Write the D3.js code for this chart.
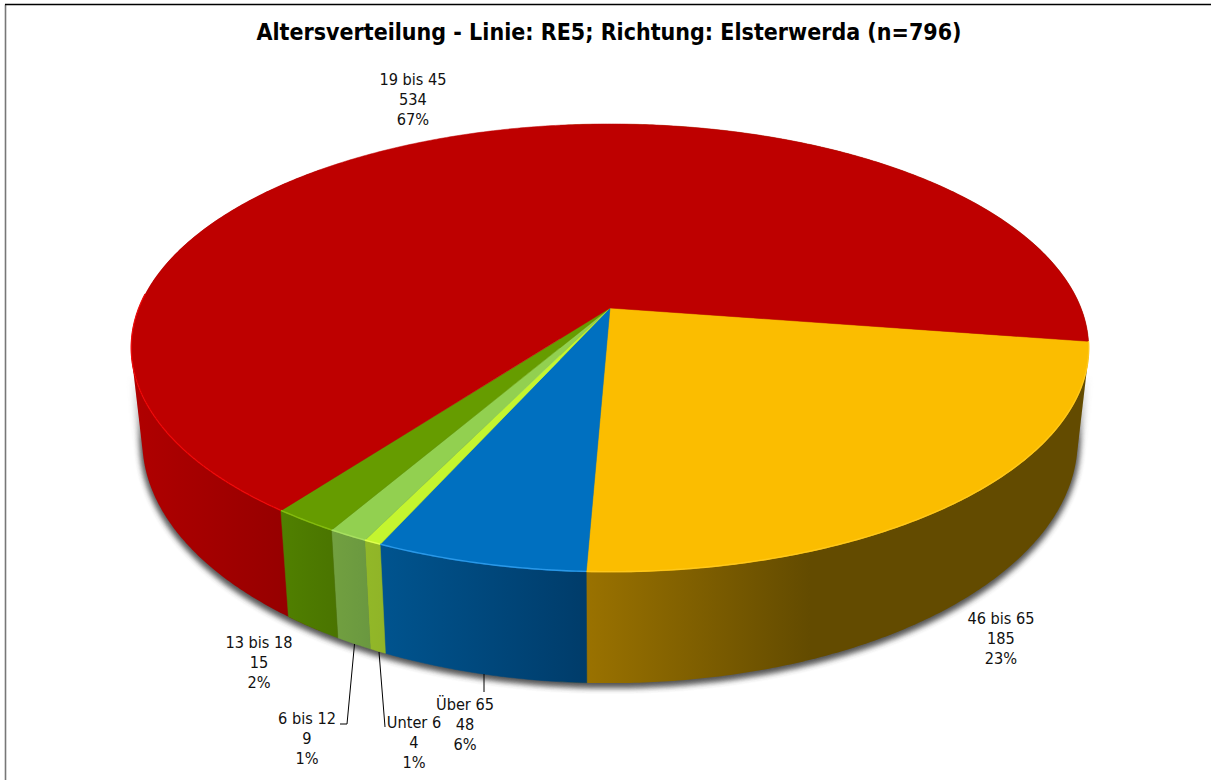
<!DOCTYPE html>
<html lang="de">
<head>
<meta charset="utf-8">
<title>Altersverteilung</title>
<script src="https://cdn.jsdelivr.net/npm/d3@7/dist/d3.min.js"></script>
<style>
html,body{margin:0;padding:0;background:#fff;overflow:hidden}
svg{display:block}
text{font-family:"DejaVu Sans Condensed","DejaVu Sans",sans-serif;font-stretch:condensed;fill:#111}
</style>
</head>
<body>
<svg id="chart" width="1211" height="780"></svg>
<script>
const titleText = "Altersverteilung - Linie: RE5; Richtung: Elsterwerda (n=796)";
const categories = ["46 bis 65","Über 65","Unter 6","6 bis 12","13 bis 18","19 bis 45"];
const counts = [185,48,4,9,15,534];
const percents = ["23%","6%","1%","1%","2%","67%"];

const topColors  = ["#FBBD00","#0070C0","#C4F52F","#92D050","#669C00","#BE0000"];
const rimColors  = ["#FFC81A","#2A98E8","#E0FF50","#A8E060","#84BC10","#E80808"];
const wallLeft   = ["#9A7200","#00548F","#92B828","#72A040","#508000","#B00000"];
const wallRight  = ["#634B00","#003C6A","#90B428","#6A9840","#4A7400","#960000"];

// layout of the tilted pie (perspective disc)
const W=1211,H=780,cx=610,cy=308,R=471,S=216.9,K=0.1786;
const startDeg=8.6;
const bottomScaleX=0.977,bottomScaleY=1.082,bottomShift=89.4;
const labelAnchors=[[1001,618],[465,704],[414,722],[307,718],[259,642],[413,79]];
const leaders=[null,[[484,674],[484,692]],[[379,652],[385,727]],[[354.5,644],[347,724],[340,724]],null,null];

const svg=d3.select("#chart");
const defs=svg.append("defs");
const blur=defs.append("filter").attr("id","shadowBlur")
  .attr("x","-5%").attr("y","-5%").attr("width","110%").attr("height","110%");
blur.append("feGaussianBlur").attr("stdDeviation",3.2);
const soft=defs.append("filter").attr("id","soft")
  .attr("x","-5%").attr("y","-5%").attr("width","110%").attr("height","110%");
soft.append("feGaussianBlur").attr("stdDeviation",0.6);

const pie=d3.pie().sort(null).value(d=>d)
  .startAngle(startDeg*Math.PI/180).endAngle((startDeg+360)*Math.PI/180);
const arcs=pie(counts);

function projTop(a){
  const u=Math.cos(a),v=Math.sin(a),w=1-K*v;
  return [cx+R*u/w, cy+S*v/w];
}
function projBottom(a){
  const p=projTop(a);
  return [cx+(p[0]-cx)*bottomScaleX, cy+bottomShift+(p[1]-cy)*bottomScaleY];
}
const line=d3.line();
function angles(a0,a1){
  const n=Math.max(2,Math.ceil((a1-a0)/(0.5*Math.PI/180)));
  return d3.range(n+1).map(i=>a0+(a1-a0)*i/n);
}

// frame
svg.append("path").attr("d",line([[5.5,780],[5.5,4.5]])).attr("fill","none").attr("stroke","#777").attr("stroke-width",1.6);
svg.append("path").attr("d",line([[5,4.5],[1211,4.5]])).attr("fill","none").attr("stroke","#000").attr("stroke-width",1.6);

// outer silhouette of the body: hull of the top and bottom outlines
const ring=angles(0,2*Math.PI);
const hull=d3.polygonHull(ring.map(projTop).concat(ring.map(projBottom)));

// shadow under the body, fading in below the widest part of the disc
const fade=defs.append("linearGradient").attr("id","shadowFade")
  .attr("gradientUnits","userSpaceOnUse").attr("x1",0).attr("x2",0).attr("y1",375).attr("y2",440);
fade.append("stop").attr("offset",0).attr("stop-color","#000");
fade.append("stop").attr("offset",1).attr("stop-color","#fff");
defs.append("mask").attr("id","shadowMask").attr("maskUnits","userSpaceOnUse")
  .attr("x",0).attr("y",0).attr("width",W).attr("height",H)
  .append("rect").attr("width",W).attr("height",H).attr("fill","url(#shadowFade)");
const shadow=svg.append("g").attr("mask","url(#shadowMask)");
shadow.append("path")
  .attr("d",line(ring.map(projBottom).map(p=>[p[0],p[1]+3]))+"Z")
  .attr("fill","#444").attr("opacity",0.85).attr("stroke","#444").attr("stroke-width",2)
  .attr("filter","url(#shadowBlur)");
shadow.append("path")
  .attr("d",line(hull.map(p=>[p[0],p[1]+2]))+"Z")
  .attr("fill","#444").attr("opacity",0.6).attr("stroke","#444").attr("stroke-width",4)
  .attr("filter","url(#shadowBlur)");

defs.append("clipPath").attr("id","clipLeft").append("rect")
  .attr("x",0).attr("y",0).attr("width",320).attr("height",H);
defs.append("clipPath").attr("id","clipRight").append("rect")
  .attr("x",560).attr("y",0).attr("width",W-560).attr("height",H);

// walls
const walls=svg.append("g");
const order=[5,0,1,2,3,4];
order.forEach(i=>{
  const d=arcs[i];
  const tp=angles(d.startAngle,d.endAngle).map(projTop);
  const bp=angles(d.startAngle,d.endAngle).map(projBottom);
  let x0,x1;
  if(i===5){x0=131;x1=288;}
  else if(i===0){x0=586;x1=810;}
  else{
    const xs=tp.concat(bp).map(p=>p[0]);
    x0=d3.min(xs);x1=d3.max(xs);
  }
  const g=defs.append("linearGradient").attr("id","wall"+i)
    .attr("gradientUnits","userSpaceOnUse")
    .attr("x1",x0).attr("x2",x1).attr("y1",0).attr("y2",0);
  g.append("stop").attr("offset",0).attr("stop-color",wallLeft[i]);
  g.append("stop").attr("offset",1).attr("stop-color",wallRight[i]);
  if(i===5||i===0){
    // the two large slices own the sides of the silhouette
    walls.append("path").attr("d",line(hull)+"Z")
      .attr("fill",`url(#wall${i})`)
      .attr("clip-path",i===5?"url(#clipLeft)":"url(#clipRight)");
  }else{
    walls.append("path")
      .attr("d",line(tp.concat(bp.reverse()))+"Z")
      .attr("fill",`url(#wall${i})`)
      .attr("stroke",`url(#wall${i})`).attr("stroke-width",0.5);
  }
});

// top surface
const tops=svg.append("g");
arcs.forEach((d,i)=>{
  const pts=angles(d.startAngle,d.endAngle).map(projTop);
  tops.append("path")
    .attr("d",line([[cx,cy]].concat(pts))+"Z")
    .attr("fill",topColors[i]).attr("stroke",topColors[i]).attr("stroke-width",0.5);
});
// bright rim along the front edge
arcs.forEach((d,i)=>{
  const a0=d.startAngle,a1=Math.min(d.endAngle,Math.PI*1.02);
  if(a1<=a0)return;
  tops.append("path")
    .attr("d",line(angles(a0,a1).map(projTop).map(p=>[p[0],p[1]-0.4])))
    .attr("fill","none").attr("stroke",rimColors[i]).attr("stroke-width",1.4)
    .attr("filter","url(#soft)");
});

// leader lines
leaders.forEach(l=>{
  if(l) svg.append("path").attr("d",line(l)).attr("fill","none").attr("stroke","#000").attr("stroke-width",1);
});

// title
svg.append("text").attr("x",609).attr("y",40).attr("text-anchor","middle")
  .attr("font-size",23).attr("font-weight",700).style("fill","#000").text(titleText);

// labels
categories.forEach((c,i)=>{
  const [x,y]=labelAnchors[i];
  const t=svg.append("text").attr("text-anchor","middle").attr("font-size",16.2);
  [c,String(counts[i]),percents[i]].forEach((s,j)=>{
    t.append("tspan").attr("x",x).attr("y",y+j*20+5.5).text(s);
  });
});
</script>
</body>
</html>
